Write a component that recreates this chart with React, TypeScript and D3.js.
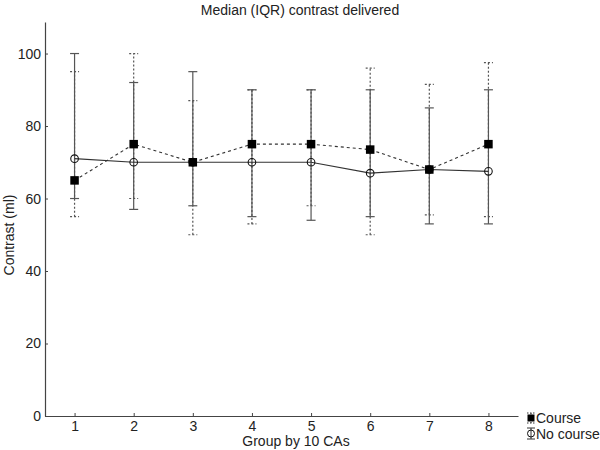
import React, { useEffect, useRef } from "react";
import * as d3 from "d3";

// groups of 10 CAs
const groups = [1, 2, 3, 4, 5, 6, 7, 8];

// Course (dashed line, filled squares)
const courseMedian = [65, 75, 70, 75, 75, 73.5, 68, 75];
const courseQ1 = [55, 60, 50, 53, 58, 50, 55.5, 55];
const courseQ3 = [95, 100, 87, 90, 90, 96, 91.5, 97.5];

// No course (solid line, open circles)
const noCourseMedian = [71, 70, 70, 70, 70, 67, 68, 67.5];
const noCourseQ1 = [60, 57, 58, 55, 54, 55, 53, 53];
const noCourseQ3 = [100, 92, 95, 90, 90, 90, 85, 90];

const yTicks = [0, 20, 40, 60, 80, 100];

const FONT = "'Liberation Sans', Arial, sans-serif";

const App = () => {
  const svgRef = useRef<SVGSVGElement>(null);

  useEffect(() => {
    const svg = d3.select(svgRef.current);
    svg.selectAll("*").remove();

    const x = d3.scaleLinear().domain([0.5, 8.5]).range([45, 518]);
    const y = d3.scaleLinear().domain([0, 108.7]).range([416, 22]);

    const axisColor = "#444";
    const lineColor = "#333";

    // title
    svg
      .append("text")
      .attr("x", 300)
      .attr("y", 15)
      .attr("text-anchor", "middle")
      .attr("font-family", FONT)
      .attr("font-size", 14)
      .attr("fill", "#222")
      .text("Median (IQR) contrast delivered");

    // axes
    const xAxis = svg
      .append("g")
      .attr("transform", `translate(0,${y(0)})`)
      .call(d3.axisBottom(x).tickValues(groups).tickFormat(d3.format("d")).tickSizeInner(-3).tickSizeOuter(0).tickPadding(5));
    const yAxis = svg
      .append("g")
      .attr("transform", `translate(${x(0.5)},0)`)
      .call(d3.axisLeft(y).tickValues(yTicks).tickSizeInner(-3).tickSizeOuter(0).tickPadding(4));

    [xAxis, yAxis].forEach((ax) => {
      ax.select(".domain").attr("stroke", axisColor).attr("stroke-width", 1.2);
      ax.selectAll(".tick line").attr("stroke", axisColor);
      ax.selectAll(".tick text")
        .attr("font-family", FONT)
        .attr("font-size", 14)
        .attr("fill", "#222");
    });

    svg
      .append("text")
      .attr("x", 296)
      .attr("y", 446)
      .attr("text-anchor", "middle")
      .attr("font-family", FONT)
      .attr("font-size", 14)
      .attr("fill", "#222")
      .text("Group by 10 CAs");

    svg
      .append("text")
      .attr("transform", `translate(14,235) rotate(-90)`)
      .attr("text-anchor", "middle")
      .attr("font-family", FONT)
      .attr("font-size", 14)
      .attr("fill", "#222")
      .text("Contrast (ml)");

    const capW = 4.5;

    const drawBars = (q1: number[], q3: number[], dash: string | null, color: string) => {
      const g = svg.append("g");
      groups.forEach((grp, i) => {
        const cx = x(grp);
        const seg = (x1: number, y1: number, x2: number, y2: number) => {
          const l = g
            .append("line")
            .attr("x1", x1)
            .attr("y1", y1)
            .attr("x2", x2)
            .attr("y2", y2)
            .attr("stroke", color)
            .attr("stroke-width", 1.2);
          if (dash) l.attr("stroke-dasharray", dash);
        };
        seg(cx, y(q1[i]), cx, y(q3[i]));
        seg(cx - capW, y(q1[i]), cx + capW, y(q1[i]));
        seg(cx - capW, y(q3[i]), cx + capW, y(q3[i]));
      });
    };

    // error bars: dotted for Course, solid for No course
    drawBars(courseQ1, courseQ3, "2,2", "#555");
    drawBars(noCourseQ1, noCourseQ3, null, "#555");

    const line = d3
      .line<number>()
      .x((d, i) => x(groups[i]))
      .y((d) => y(d));

    svg
      .append("path")
      .datum(courseMedian)
      .attr("fill", "none")
      .attr("stroke", lineColor)
      .attr("stroke-width", 1.1)
      .attr("stroke-dasharray", "3,3")
      .attr("d", line);

    svg
      .append("path")
      .datum(noCourseMedian)
      .attr("fill", "none")
      .attr("stroke", lineColor)
      .attr("stroke-width", 1.1)
      .attr("d", line);

    svg
      .append("g")
      .selectAll("circle")
      .data(noCourseMedian)
      .join("circle")
      .attr("cx", (d, i) => x(groups[i]))
      .attr("cy", (d) => y(d))
      .attr("r", 3.8)
      .attr("fill", "none")
      .attr("stroke", "#111")
      .attr("stroke-width", 1.1);

    const sq = 8.5;
    svg
      .append("g")
      .selectAll("rect")
      .data(courseMedian)
      .join("rect")
      .attr("x", (d, i) => x(groups[i]) - sq / 2)
      .attr("y", (d) => y(d) - sq / 2)
      .attr("width", sq)
      .attr("height", sq)
      .attr("fill", "#000");

    // legend
    const lg = svg.append("g").attr("transform", "translate(531,0)");
    const legLine = (x1: number, y1: number, x2: number, y2: number, dash: string | null) => {
      const l = lg
        .append("line")
        .attr("x1", x1)
        .attr("y1", y1)
        .attr("x2", x2)
        .attr("y2", y2)
        .attr("stroke", "#333")
        .attr("stroke-width", 1);
      if (dash) l.attr("stroke-dasharray", dash);
    };
    legLine(0, 413, 0, 423, "1.5,1.5");
    legLine(-4, 413, 4, 413, "1.5,1.5");
    legLine(-4, 423, 4, 423, "1.5,1.5");
    lg.append("rect").attr("x", -3.5).attr("y", 414.5).attr("width", 7).attr("height", 7).attr("fill", "#000");
    legLine(0, 428, 0, 439, null);
    legLine(-4, 428, 4, 428, null);
    legLine(-4, 439, 4, 439, null);
    lg.append("circle").attr("cx", 0).attr("cy", 433.5).attr("r", 3.5).attr("fill", "none").attr("stroke", "#111");

    lg.append("text")
      .attr("x", 5)
      .attr("y", 423)
      .attr("font-family", FONT)
      .attr("font-size", 14)
      .attr("fill", "#222")
      .text("Course");
    lg.append("text")
      .attr("x", 5)
      .attr("y", 439)
      .attr("font-family", FONT)
      .attr("font-size", 14)
      .attr("fill", "#222")
      .text("No course");
  }, []);

  return (
    <svg
      ref={svgRef}
      width={600}
      height={450}
      style={{ position: "absolute", left: 0, top: 0, background: "#fff" }}
    ></svg>
  );
};

export default App;
